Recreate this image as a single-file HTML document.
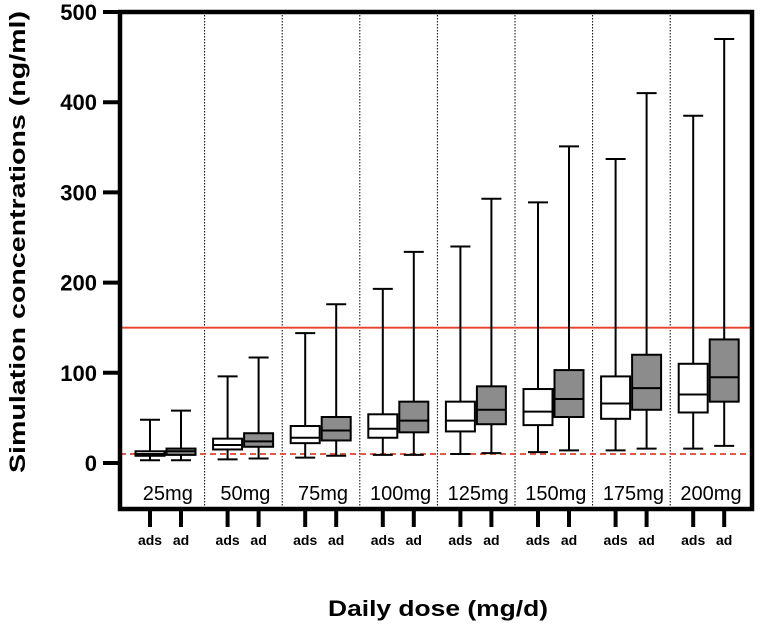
<!DOCTYPE html>
<html><head><meta charset="utf-8"><style>
body{margin:0;background:#fff}
svg{display:block;font-family:"Liberation Sans",Arial,sans-serif}
</style></head><body>
<svg id="chart" width="762" height="628" viewBox="0 0 762 628" xmlns="http://www.w3.org/2000/svg">
<text transform="translate(25,242) rotate(-90)" text-anchor="middle" font-size="22" font-weight="bold" textLength="462" lengthAdjust="spacingAndGlyphs">Simulation concentrations (ng/ml)</text>
<text x="438" y="616" text-anchor="middle" font-size="22" font-weight="bold" textLength="220" lengthAdjust="spacingAndGlyphs">Daily dose (mg/d)</text>
<g id="plot"></g>
</svg>
<script>
const doses = ["25mg","50mg","75mg","100mg","125mg","150mg","175mg","200mg"];
const adsMin = [3,4,6,9,10,12,14,16];
const adsQ1 = [8,15,22,28,35,42,49,56];
const adsMed = [10,20,28,38,47,57,66,76];
const adsQ3 = [13,27,41,54,68,82,96,110];
const adsMax = [48,96,144,193,240,289,337,385];
const adMin = [3,5,8,9,11,14,16,19];
const adQ1 = [9,18,25,34,43,51,59,68];
const adMed = [13,24,36,47,59,71,83,95];
const adQ3 = [16,33,51,68,85,103,120,137];
const adMax = [58,117,176,234,293,351,410,470];
const yTicks = [0,100,200,300,400,500];
const refHigh = 150, refLow = 10;

const NS="http://www.w3.org/2000/svg";
const g=document.getElementById('plot');
const X0=120,X1=752,Y0=463,YT=12,G0=127;
const y=v=>Y0-(v/500)*(Y0-YT);
const groupW=77.6;
const gx=i=>G0+groupW*i;
function mk(t,a,p){const e=document.createElementNS(NS,t);for(const k in a)e.setAttribute(k,a[k]);(p||g).appendChild(e);return e;}

for(let i=1;i<doses.length;i++){
  const d=mk('line',{x1:gx(i),x2:gx(i),y1:YT,y2:509,stroke:'#000','stroke-width':1,'stroke-dasharray':'1.5,1.5'});
  
  
}
const r1=mk('line',{x1:X0,x2:X1,y1:y(refHigh),y2:y(refHigh),stroke:'#e8402a','stroke-width':1.8});


const r2=mk('line',{x1:X0,x2:X1,y1:y(refLow),y2:y(refLow),stroke:'#d9452e','stroke-width':1.8,'stroke-dasharray':'6,4'});



function box(cx,mn,q1,md,q3,mx,fill,name){
  const grp=mk('g',{});
  
  
  const hw=14.5,cw=10;
  mk('line',{x1:cx,x2:cx,y1:y(mx),y2:y(q3),stroke:'#000','stroke-width':2},grp);
  mk('line',{x1:cx,x2:cx,y1:y(q1),y2:y(mn),stroke:'#000','stroke-width':2},grp);
  mk('line',{x1:cx-cw,x2:cx+cw,y1:y(mx),y2:y(mx),stroke:'#000','stroke-width':2},grp);
  mk('line',{x1:cx-cw,x2:cx+cw,y1:y(mn),y2:y(mn),stroke:'#000','stroke-width':2},grp);
  mk('rect',{x:cx-hw,y:y(q3),width:hw*2,height:Math.max(1,y(q1)-y(q3)),fill:fill,stroke:'#000','stroke-width':2},grp);
  mk('line',{x1:cx-hw,x2:cx+hw,y1:y(md),y2:y(md),stroke:'#000','stroke-width':2},grp);
}
doses.forEach((d,i)=>{
  const ca=gx(i)+23, cb=gx(i)+54;
  box(ca,adsMin[i],adsQ1[i],adsMed[i],adsQ3[i],adsMax[i],'#fff','box-ads-'+d);
  box(cb,adMin[i],adQ1[i],adMed[i],adQ3[i],adMax[i],'#8c8c8c','box-ad-'+d);
  const t=mk('text',{x:gx(i)+groupW/2+2,y:500,'text-anchor':'middle','font-size':20});
  t.textContent=d;
  
  
  [[ca,'ads'],[cb,'ad']].forEach(([cx,lab])=>{
    mk('line',{x1:cx,x2:cx,y1:509,y2:527,stroke:'#000','stroke-width':4});
    const l=mk('text',{x:cx,y:545,'text-anchor':'middle','font-size':14,'font-weight':'bold'});
    l.textContent=lab;
    
    
  });
});
yTicks.forEach(v=>{
  mk('line',{x1:103,x2:X0,y1:y(v),y2:y(v),stroke:'#000','stroke-width':4});
  const t=mk('text',{x:97,y:y(v)+8,'text-anchor':'end','font-size':22,'font-weight':'bold'});
  t.textContent=v;
  
  
});
const fr=mk('path',{d:`M${X0},${YT} H${X1} V509 H${X0} Z`,fill:'none',stroke:'#000','stroke-width':4.5});


</script>
</body></html>
